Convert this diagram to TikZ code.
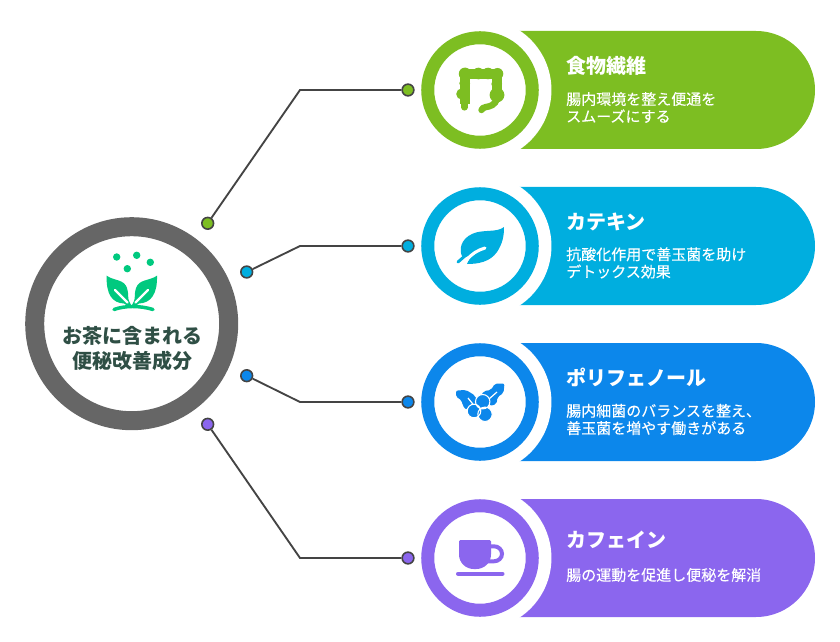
\documentclass[tikz,border=0pt]{standalone}
\usepackage{fontspec}
\setmainfont{Noto Sans CJK JP}
\newfontfamily\descfont{Noto Sans CJK JP}[FakeBold=0.25]
\definecolor{fibergreen}{HTML}{7DBE22}
\definecolor{catechincyan}{HTML}{00AEDF}
\definecolor{polyblue}{HTML}{0C87EB}
\definecolor{caffeinepurple}{HTML}{8B66EE}
\definecolor{hubgray}{HTML}{666666}
\definecolor{linegray}{HTML}{444444}
\definecolor{hubtext}{HTML}{2F4F45}
\definecolor{plantgreen}{HTML}{00C97F}
\usetikzlibrary{shapes.misc}
\tikzset{
  pill/.style={rounded rectangle,minimum width=295.5pt,minimum height=88.5pt,inner sep=0pt},
  gap/.style={circle,fill=white,minimum size=107.2pt,inner sep=0pt},
  ring/.style={circle,fill=white,line width=9.75pt,minimum size=78.4pt,inner sep=0pt},
  hub/.style={circle,fill=white,draw=hubgray,line width=14.25pt,minimum size=145.5pt,inner sep=0pt},
  joint/.style={circle,draw=linegray,line width=1.2pt,minimum size=8.8pt,inner sep=0pt},
  link/.style={draw=linegray,line width=1.4pt},
  headtext/.style={anchor=west,text=white,font=\fontsize{15}{18}\selectfont\bfseries,inner sep=0pt},
  desctext/.style={anchor=west,text=white,align=left,font=\fontsize{11.25}{13}\selectfont\descfont,inner sep=0pt},
}
\begin{document}
\begin{tikzpicture}[x=0.75pt,y=-0.75pt]
\useasboundingbox (0,0) rectangle (840,642);
\def\xe{300}
\def\xd{408}
% pills and rings
\node[pill,fill=fibergreen] (pillA) at (618,90) {};
\node[gap] (gapA) at (480,90) {};
\node[ring,draw=fibergreen] (ringA) at (480,90) {};
\node[pill,fill=catechincyan] (pillB) at (618,246) {};
\node[gap] (gapB) at (480,246) {};
\node[ring,draw=catechincyan] (ringB) at (480,246) {};
\node[pill,fill=polyblue] (pillC) at (618,402) {};
\node[gap] (gapC) at (480,402) {};
\node[ring,draw=polyblue] (ringC) at (480,402) {};
\node[pill,fill=caffeinepurple] (pillD) at (618,558) {};
\node[gap] (gapD) at (480,558) {};
\node[ring,draw=caffeinepurple] (ringD) at (480,558) {};
\node[hub] (hub) at (131.7,323.7) {};
% labels
\node[headtext] (headA) at (566,65.5) {食物繊維};
\node[desctext] (descA) at (566,107.5) {腸内環境を整え便通を\\スムーズにする};
\node[headtext] (headB) at (566,221.5) {カテキン};
\node[desctext] (descB) at (566,263) {抗酸化作用で善玉菌を助け\\デトックス効果};
\node[headtext] (headC) at (566,377.5) {ポリフェノール};
\node[desctext] (descC) at (566,419.5) {腸内細菌のバランスを整え、\\善玉菌を増やす働きがある};
\node[headtext] (headD) at (566,540) {カフェイン};
\node[desctext] (descD) at (566,575) {腸の運動を促進し便秘を解消};
\node[align=center,text=hubtext,font=\fontsize{15}{18.6}\selectfont\bfseries,inner sep=0pt] (hubtext) at (132,348.5) {お茶に含まれる\\便秘改善成分};
% connectors
\node[joint,fill=fibergreen] (jA) at (207.7,223.3) {};
\node[joint,fill=catechincyan] (jB) at (246.7,272) {};
\node[joint,fill=polyblue] (jC) at (246.7,375.7) {};
\node[joint,fill=caffeinepurple] (jD) at (207.7,424.3) {};
\node[joint,fill=fibergreen] (kA) at (\xd,90) {};
\node[joint,fill=catechincyan] (kB) at (\xd,246) {};
\node[joint,fill=polyblue] (kC) at (\xd,402) {};
\node[joint,fill=caffeinepurple] (kD) at (\xd,558) {};
\coordinate (eA) at (\xe,90);
\coordinate (eB) at (\xe,246);
\coordinate (eC) at (\xe,402);
\coordinate (eD) at (\xe,558);
\draw[link] (jA) -- (eA) -- (kA);
\draw[link] (jB) -- (eB) -- (kB);
\draw[link] (jC) -- (eC) -- (kC);
\draw[link] (jD) -- (eD) -- (kD);
% plant icon
\fill[plantgreen] (116.7,257) circle (3.7) (136.7,255.3) circle (3.7) (150.3,262.3) circle (3.7) (127.3,268.7) circle (3.7);
\fill[plantgreen] (106.7,275.7) .. controls (114,281) and (124,279) .. (127,288) .. controls (129,294) and (127.5,298) .. (129,301) -- (131.5,306) -- (128,306) -- (124,303.5) .. controls (112,303) and (106,294) .. (106.7,275.7) -- cycle;
\fill[plantgreen] (157,275.7) .. controls (149.5,281) and (139,279) .. (136,288) .. controls (134,294) and (135.5,298) .. (134,301) -- (131.5,306) -- (135,306) -- (139,303.5) .. controls (151,303) and (157.5,294) .. (157,275.7) -- cycle;
\draw[white,line width=1.7pt,line cap=round] (115,290) -- (127.5,302.5) (148,290) -- (135.5,302.5);
\draw[plantgreen,line width=2.6pt,line cap=round] (114,309.5) .. controls (125,305.5) and (140,305.5) .. (153,309.5);
% fibre icon
\draw[fibergreen,line width=7.5pt,line join=round] (465,104) -- (465,74) -- (496.5,74) -- (496.5,97);
\draw[fibergreen,line width=4.6pt,line cap=round] (464.5,95) -- (464.5,107.5);
\draw[fibergreen,line width=4.8pt,line cap=round] (497,99) .. controls (495,105) and (490,106.5) .. (486,107) .. controls (483.5,107.5) and (482,108.5) .. (481.5,110);
\fill[fibergreen] (465,73.8) circle (6.2) (478.3,73.5) circle (5.8) (488,73.5) circle (5.8) (497.5,73.8) circle (5.8) (464.7,83.3) circle (5.4) (461.8,94) circle (5.6) (496.7,84) circle (5.4) (497,95) circle (7.4);
% leaf icon
\fill[catechincyan] (504,227) .. controls (497,233) and (482,229) .. (472,234) .. controls (461,239) and (458,250) .. (463,258) -- (471,255) -- (467,264) .. controls (478,264) and (490,262) .. (497,252) .. controls (503,243) and (504,235) .. (504,227) -- cycle;
\draw[catechincyan,line width=2.2pt,line cap=round] (458,262) -- (466,255);
\draw[white,line width=2.3pt,line cap=round] (466.5,260.5) .. controls (471,254) and (478,250) .. (485,248);
% polyphenol icon
\fill[polyblue,rounded corners=1.5pt] (456,390.5) -- (466,390) -- (475,395.5) -- (477.5,403) -- (469.5,405.5) -- (466,410) -- (462.5,405) -- (461.5,400) -- (456,397) -- cycle;
\fill[polyblue,rounded corners=1.5pt] (504.5,383.5) -- (503.5,393) -- (497.5,397) -- (496.5,404) -- (490,406) -- (480,397) -- (484,391) -- (491,390) -- (495,383.5) -- cycle;
\draw[white,line width=0.9pt] (468,398) -- (476,408);
\draw[white,line width=0.9pt] (497,392) -- (489,399);
\fill[polyblue,draw=white,line width=0.8pt] (474,411) circle (6.8) (485,414.3) circle (7.2) (482.7,401.7) circle (7.2);
% cup icon
\fill[caffeinepurple,rounded corners=1pt] (459,540) -- (491,540) -- (491,553) .. controls (491,563) and (484,569) .. (475,569) .. controls (466,569) and (459,563) .. (459,553) -- cycle;
\draw[caffeinepurple,line width=3pt] (490,546.3) -- (494,546.3) arc[start angle=-90,end angle=90,x radius=8,y radius=7.5] -- (487,561.3);
\draw[caffeinepurple,line width=3pt,line cap=round] (458,573.7) -- (502.5,573.7);
\end{tikzpicture}
\end{document}
